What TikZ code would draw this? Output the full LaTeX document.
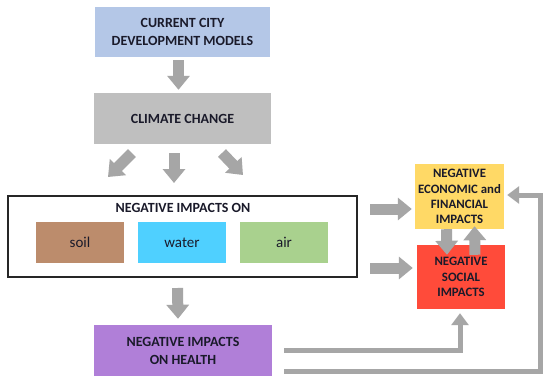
\documentclass[tikz,border=0pt]{standalone}
\usepackage{fontspec}
\setmainfont{Carlito}
\usetikzlibrary{arrows.meta}
\definecolor{agray}{HTML}{A6A6A6}
\definecolor{cblue}{HTML}{B4C7E7}
\definecolor{cgray}{HTML}{BFBFBF}
\definecolor{csoil}{HTML}{BC8C6C}
\definecolor{cwater}{HTML}{4FD0FF}
\definecolor{cair}{HTML}{A9D18E}
\definecolor{cpurple}{HTML}{B07FD8}
\definecolor{cyellow}{HTML}{FFD966}
\definecolor{cred}{HTML}{FF4B3A}
\definecolor{ctext}{HTML}{1A1A2A}
\begin{document}
\begin{tikzpicture}[x=1pt,y=-1pt,
  box/.style={draw=none, inner sep=0pt, align=center, text=ctext,
    font=\bfseries\fontsize{14}{18}\selectfont},
  sidebox/.style={box, font=\bfseries\fontsize{12.8}{15.3}\selectfont},
  small/.style={draw=none, inner sep=0pt, align=center, text=ctext,
    font=\fontsize{15}{17}\selectfont},
  fat/.style={draw=agray, line width=11pt, -{Triangle[width=22pt,length=14pt]}},
  thinline/.style={draw=agray, line width=5pt, -{Triangle[width=17pt,length=12pt]}}
]
\useasboundingbox[fill=white] (0,0) rectangle (550,383);

\node[box, fill=cblue, minimum width=175pt, minimum height=50pt] (top) at (182.5,32) {CURRENT CITY\\DEVELOPMENT MODELS};
\node[box, fill=cgray, minimum width=177pt, minimum height=51pt] (climate) at (182.5,118.5) {CLIMATE CHANGE};
\node[draw=black!85, line width=2pt, minimum width=349pt, minimum height=81pt, inner sep=0pt] (impacts) at (182.5,236.5) {};
\node[box] (impl) at (183,208) {NEGATIVE IMPACTS ON};
\node[small, fill=csoil, minimum width=88pt, minimum height=41pt] (soil) at (80,242.5) {soil};
\node[small, fill=cwater, minimum width=88pt, minimum height=41pt] (water) at (182,242.5) {water};
\node[small, fill=cair, minimum width=88pt, minimum height=41pt] (air) at (284,242.5) {air};
\node[box, fill=cpurple, minimum width=178pt, minimum height=51pt] (health) at (183,350.5) {NEGATIVE IMPACTS\\ON HEALTH};
\node[sidebox, fill=cyellow, minimum width=89pt, minimum height=65pt] (econ) at (459.5,196.5) {NEGATIVE\\ECONOMIC and\\FINANCIAL\\IMPACTS};
\node[sidebox, fill=cred, minimum width=88pt, minimum height=64pt] (social) at (461,277) {NEGATIVE\\SOCIAL\\IMPACTS};

% block arrows
\draw[fat] ([xshift=-4pt,yshift=-3pt]top.south) -- ([xshift=-4pt,yshift=3pt]climate.north);
\draw[fat] (132,153) -- (108,177);
\draw[fat] (174,153) -- (174,183);
\draw[fat] (222,153) -- (243,175);
\draw[fat] ([xshift=-5pt,yshift=-10pt]impacts.south) -- ([xshift=-5pt,yshift=6pt]health.north);
\draw[fat] (370,209) -- ([xshift=-3pt]econ.west |- 0,209);
\draw[fat] (370,268) -- ([xshift=-4pt]social.west |- 0,268);
\draw[fat] ([xshift=-13pt]econ.south) -- ([xshift=-14pt,yshift=-10pt]social.north);
\draw[fat] ([xshift=14pt,yshift=-10pt]social.north) -- ([xshift=15pt,yshift=3pt]econ.south);

% feedback lines
\coordinate (h1) at (284,350);
\coordinate (h2) at (284,371);
\draw[thinline] (h1) -| ([yshift=-4pt]social.south -| 460,0);
\draw[thinline] (h2) -| (540,195) -- ([xshift=3pt]econ.east |- 0,195);
\end{tikzpicture}
\end{document}
